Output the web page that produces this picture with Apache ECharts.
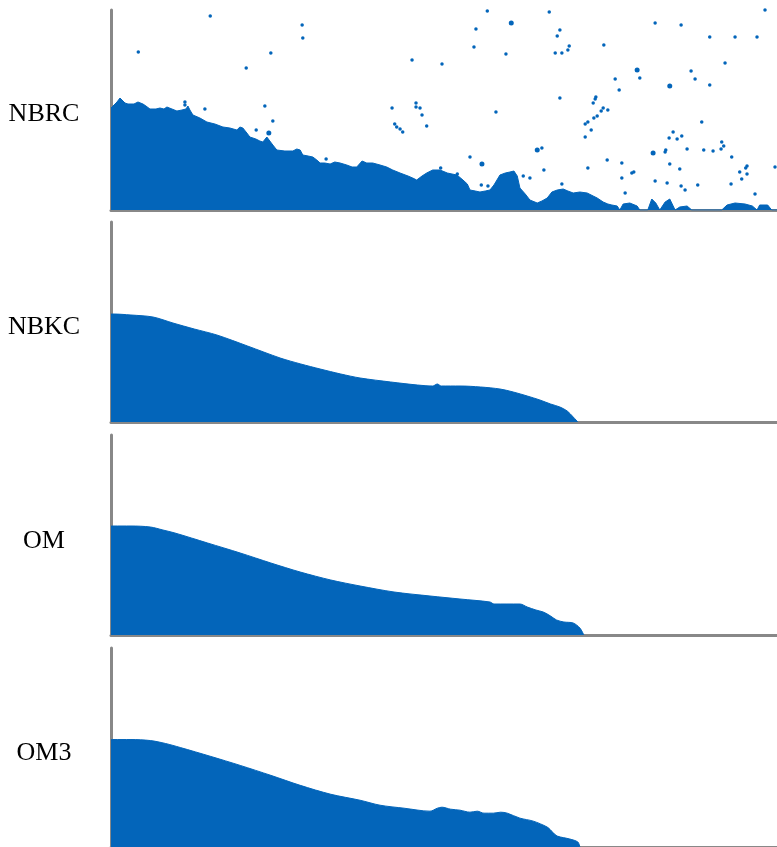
<!DOCTYPE html>
<html>
<head>
<meta charset="utf-8">
<title>NBRC / NBKC / OM / OM3</title>
<script src="https://cdn.jsdelivr.net/npm/echarts@6/dist/echarts.min.js"></script>
<style>
  html, body { margin: 0; padding: 0; background: #fff; }
  #chart { width: 777px; height: 847px; }
</style>
</head>
<body>
<div id="chart"></div>
<script>
// 面板名称
var panelNames = ['NBRC', 'NBKC', 'OM', 'OM3'];

// NBRC 轮廓 [x, y]
var nbrcProfile = [
  [0, 51], [0.3, 51], [0.9, 54], [1.35, 56], [1.65, 55], [2.1, 53.5], [2.55, 53], [2.85, 52.5],
  [3.45, 53], [4.05, 54], [4.8, 53], [5.25, 52], [5.85, 50.5], [6.75, 50.5], [7.35, 51], [7.95, 50.5],
  [8.4, 51.5], [9.15, 50.5], [9.9, 49.5], [10.65, 50], [11.25, 50.5], [11.55, 52], [11.85, 50], [12.3, 47.5],
  [13.35, 46], [14.4, 44], [15.6, 43], [16.8, 41.5], [17.85, 41], [18.9, 40], [19.35, 41.5], [19.8, 41],
  [20.4, 38.5], [20.85, 36.5], [21.75, 35.5], [22.35, 34.5], [22.8, 34], [23.4, 36.5], [23.85, 34.5], [24.3, 32.5],
  [24.9, 30], [26.1, 29.5], [27.3, 29.5], [27.9, 30.5], [28.4, 30], [28.8, 27.5], [29.6, 27], [30.3, 26.5],
  [30.9, 25], [31.4, 23.5], [32.1, 23.5], [32.9, 23], [33.6, 24], [34.4, 23.5], [35.4, 22.5], [36.2, 21.5],
  [36.9, 21.5], [37.7, 24.5], [38.4, 23.5], [39.3, 23.5], [40.4, 22.5], [41.4, 21.5], [42.3, 20], [43.4, 18.5],
  [44.6, 17], [45.3, 16], [45.9, 15], [46.7, 17], [47.4, 18.5], [48.3, 20], [49.4, 20], [50.5, 18.5],
  [51.2, 18], [51.95, 17.5], [52.85, 15], [53.5, 13], [53.9, 10], [54.7, 9.5], [55.4, 9], [56.2, 9.5],
  [56.9, 10], [57.5, 12.5], [57.95, 15], [58.4, 17.5], [59.2, 18.5], [59.9, 19], [60.5, 19.5], [61, 17],
  [61.4, 11], [62.2, 8], [62.9, 5], [64, 3.5], [64.7, 4.5], [65.5, 6], [66.2, 9], [67, 10],
  [67.9, 10.5], [68.6, 9.5], [69.4, 8.5], [70.4, 9], [71.5, 8.5], [72.4, 7], [73, 6], [73.9, 4],
  [74.6, 3], [75.2, 2.5], [76, 2], [76.4, 0], [76.9, 3], [77.9, 3.5], [79, 2], [79.4, 0],
  [80.6, 0], [81.2, 5.5], [81.8, 3.5], [82.4, 0], [83.2, 4], [83.9, 5.5], [84.7, 0], [85.4, 1.5],
  [86.5, 2], [87.2, 0], [91.7, 0], [92.5, 2.5], [93.7, 3.5], [95.2, 3], [96.3, 2], [97, 0],
  [97.4, 2.5], [98.6, 2.5], [99.2, 0], [100, 0]
];

// NBRC 散点（小）
var nbrcSpecks = [
  [14.9, 97], [28.7, 92.5], [28.8, 86], [4.1, 79], [24, 78.5], [20.3, 71], [11.1, 54], [11.1, 52.5],
  [14.1, 50.5], [23.1, 52], [24.3, 44.5], [21.8, 40], [32.3, 25.5], [56.5, 99.5], [65.8, 99], [60.1, 93.5],
  [67.4, 90], [67, 87], [54.8, 90.5], [54.5, 81.5], [59.3, 78], [66.7, 78.5], [67.7, 78.5], [68.6, 80],
  [68.8, 82], [45.2, 75], [49.7, 73], [67.4, 56], [42.2, 51], [45.8, 53.5], [45.8, 51.5], [46.4, 51],
  [46.7, 47.5], [42.6, 43], [42.9, 41.5], [43.4, 40.5], [43.8, 39], [47.4, 42], [57.8, 49], [64.7, 31],
  [53.9, 26.5], [65, 20], [49.5, 21], [52, 18], [61.9, 17], [62.9, 16], [67.7, 13], [55.6, 12.5],
  [56.6, 12], [98.2, 100], [81.7, 93.5], [85.6, 92.5], [89.9, 86.5], [93.7, 86.5], [97, 86.5], [74, 82.5],
  [92.2, 73.5], [87.1, 69.5], [79.4, 66], [75.7, 65.5], [87.7, 65.5], [89.9, 62.5], [76.3, 60], [72.8, 56.5],
  [72.7, 55.5], [72.4, 53.5], [73.9, 51], [73.6, 49.5], [74.6, 50], [73, 47], [72.5, 46], [71.6, 44],
  [71.2, 43], [72.1, 40], [71.2, 36.5], [88.7, 44], [84.4, 39], [83.8, 36], [85, 35.5], [85.7, 37],
  [91.7, 34], [92, 32], [91.6, 30.5], [86.5, 30.5], [89, 30], [90.4, 29.5], [83.3, 30], [83.2, 29],
  [93.2, 26.5], [74.5, 25], [76.7, 23.5], [83.9, 23], [95.5, 22], [95.3, 21], [99.7, 21.5], [94.4, 19],
  [71.6, 21], [85.4, 20.5], [78.5, 19], [78.2, 18.5], [95.5, 18], [76.7, 16], [94.7, 15.5], [81.7, 14.5],
  [83.5, 13.5], [85.6, 12], [88.1, 12.5], [93.1, 13], [86.2, 10], [77.2, 8.5], [96.7, 8]
];

// NBRC 散点（大）
var nbrcBlobs = [
  [23.7, 38.5], [64, 30], [55.7, 23], [81.4, 28.5], [79, 70], [83.9, 62], [60.1, 93.5]
];

// NBKC
var nbkcProfile = [
  [0, 54], [0.3, 54], [3, 53.5], [6.3, 52.5], [9.3, 49.5], [12.5, 46.5], [15.9, 43.5], [20.5, 38],
  [25.4, 32], [28.5, 29], [31.4, 26.5], [34.5, 24], [37.4, 22], [42, 20], [46, 18.5], [48.3, 18],
  [49, 19], [49.6, 18], [52.4, 18], [55.5, 17.5], [58.4, 16.5], [60.4, 15], [62.5, 13], [64.4, 11],
  [66, 9], [67.4, 7.5], [68.5, 5.5], [69.4, 2.5], [70.1, 0]
];

// OM
var omProfile = [
  [0, 54.5], [0.3, 54.5], [3, 54.5], [5.9, 54], [7.8, 52.5], [9.6, 51], [14.5, 46], [19.4, 41],
  [24, 36], [28.4, 31.5], [33, 27.5], [37.4, 24.5], [42.5, 21.5], [47.9, 19.5], [52.4, 18], [56.9, 16.5],
  [57.5, 15.5], [61.4, 15.5], [62.5, 14], [63.8, 12.5], [64.9, 11.5], [66, 9.5], [66.9, 7.5], [68, 6.5],
  [69.4, 6], [70.4, 3.5], [71, 0]
];

// OM3
var om3Profile = [
  [0, 54], [0.3, 54], [3, 54], [5.9, 53.5], [8.2, 52], [10.4, 50], [15, 45.5], [19.4, 41],
  [24, 36], [28.4, 31], [33, 26.5], [37.4, 23.5], [40.4, 21], [44, 19.5], [47.9, 18], [49, 19.5],
  [49.7, 20], [51, 19], [52.4, 18.5], [53.9, 17.5], [55, 18], [56, 17], [57.4, 17], [58.5, 17.5],
  [59.5, 17], [61.4, 14.5], [63.4, 13], [65.5, 10], [66.3, 7.5], [67, 5.5], [68.9, 4], [70.1, 2.5],
  [70.4, 0]
];

var blue = '#0365ba';
var axisGray = '#888888';
var profiles = [nbrcProfile, nbkcProfile, omProfile, om3Profile];
var gridTops = [10, 222, 435, 648];
var labelYs = [114, 327, 541, 753];

var myChart = echarts.init(document.getElementById('chart'), null, { renderer: 'canvas' });

var grids = [], xAxes = [], yAxes = [], series = [], graphics = [];
for (var i = 0; i < 4; i++) {
  grids.push({ left: 111, right: 0, top: gridTops[i], height: 200 });
  xAxes.push({
    type: 'value', gridIndex: i, min: 0, max: 100,
    axisLine: { show: true, onZero: false, lineStyle: { color: axisGray, width: 3 } },
    axisTick: { show: false }, axisLabel: { show: false }, splitLine: { show: false }
  });
  yAxes.push({
    type: 'value', gridIndex: i, min: 0, max: 100,
    axisLine: { show: true, lineStyle: { color: axisGray, width: 3 } },
    axisTick: { show: false }, axisLabel: { show: false }, splitLine: { show: false }
  });
  series.push({
    name: panelNames[i], type: 'line', xAxisIndex: i, yAxisIndex: i,
    data: profiles[i], showSymbol: false, smooth: i === 0 ? false : 0.3,
    lineStyle: { color: blue, width: 1 },
    areaStyle: { color: blue, opacity: 1 },
    z: 1
  });
  graphics.push({
    type: 'text', x: 44, y: labelYs[i],
    style: {
      text: panelNames[i], fill: '#000',
      font: '26px "Liberation Serif", "Times New Roman", serif',
      textAlign: 'center', textVerticalAlign: 'middle'
    }
  });
}

// NBRC 散点
series.push({
  type: 'scatter', xAxisIndex: 0, yAxisIndex: 0, data: nbrcSpecks,
  symbolSize: 3.5, itemStyle: { color: blue, opacity: 1 }, z: 3
});
series.push({
  type: 'scatter', xAxisIndex: 0, yAxisIndex: 0, data: nbrcBlobs,
  symbolSize: 5, itemStyle: { color: blue, opacity: 1 }, z: 3
});

var option = {
  animation: false,
  backgroundColor: '#fff',
  grid: grids,
  xAxis: xAxes,
  yAxis: yAxes,
  series: series,
  graphic: graphics
};

myChart.setOption(option);
</script>
</body>
</html>
